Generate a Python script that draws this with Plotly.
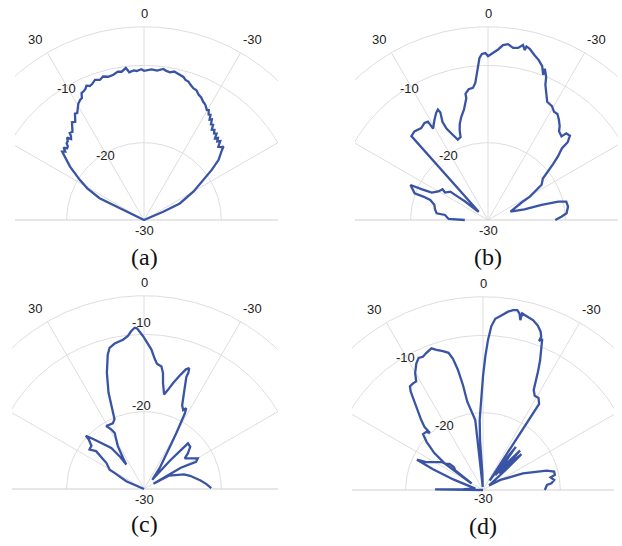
import numpy as np
import plotly.graph_objects as go

# ---------------- data: angle (deg, + = left of broadside) and level (dB) ----------------
theta_a = [90, 64.0, 63.8, 60.8, 58.0, 54.2, 50.1, 49.0, 48.0, 47.0,
           46.0, 45.2, 44.0, 43.0, 42.0, 41.0, 40.5, 39.0, 38.0, 37.2,
           36.4, 35.0, 34.0, 33.0, 32.0, 31.0, 29.4, 28.0, 27.0, 26.2,
           25.0, 24.0, 23.2, 22.0, 21.0, 19.3, 17.5, 15.9, 14.0, 11.9,
           10.0, 8.6, 6.8, 5.7, 4.0, 2.8, 1.0, 0.0, -1.5, -2.9,
           -5.0, -7.3, -8.5, -10.0, -11.5, -13.2, -15.4, -16.5, -17.8, -19.0,
           -20.5, -22.0, -23.5, -25.0, -26.6, -28.0, -29.7, -30.5, -31.5, -32.3,
           -33.2, -34.0, -35.0, -36.0, -36.9, -38.0, -39.0, -40.0, -41.0, -42.0,
           -43.0, -44.0, -45.4, -46.5, -47.3, -48.2, -49.5, -51.1, -53.5, -56.0,
           -60.1, -65.2, -66.7, -90]
r_a = [-30, -27.0, -23.6, -21.6, -20.2, -18.2, -16.2, -16.5, -16.0, -16.4,
       -16.3, -15.9, -15.8, -15.4, -15.9, -15.6, -15.2, -15.3, -14.9, -14.6,
       -14.3, -14.5, -14.0, -13.6, -13.7, -13.3, -12.7, -12.4, -12.3, -11.7,
       -11.6, -11.4, -11.1, -11.3, -11.2, -10.8, -11.0, -10.7, -10.9, -10.8,
       -10.5, -10.6, -10.2, -10.8, -10.6, -10.7, -10.5, -10.7, -10.6, -10.5,
       -10.6, -10.3, -10.5, -10.6, -10.4, -10.6, -10.8, -11.1, -11.2, -11.5,
       -11.8, -11.9, -12.3, -12.5, -12.9, -13.1, -13.6, -13.5, -14.0, -13.9,
       -14.5, -14.3, -14.9, -14.8, -15.4, -15.2, -15.6, -15.4, -16.0, -15.7,
       -16.1, -15.8, -16.5, -16.3, -16.0, -16.5, -17.0, -17.6, -19.1, -20.7,
       -22.6, -24.9, -27.3, -30]

theta_b = [90, 88.5, 83.3, 82.6, 78.6, 74.3, 70.9, 70.1, 70.0, 67.2,
           65.7, 65.1, 64.0, 60.1, 55.9, 57.4, 53.0, 52.6, 51.0, 49.7,
           48.5, 42.4, 39.7, 36.0, 33.2, 31.4, 31.4, 31.0, 28.1, 25.8,
           24.4, 23.9, 24.9, 24.4, 22.4, 20.6, 18.3, 17.5, 16.3, 14.5,
           12.3, 10.8, 10.1, 10.1, 8.4, 6.5, 5.3, 4.5, 3.7, 3.0,
           2.1, 0.9, 0.0, -1.7, -3.4, -4.9, -6.5, -8.3, -9.9, -11.3,
           -12.2, -12.5, -13.7, -15.6, -17.6, -19.4, -20.8, -20.6, -22.1, -23.0,
           -25.0, -26.6, -29.3, -31.4, -33.2, -35.2, -37.3, -38.7, -41.3, -42.1,
           -44.2, -45.7, -45.9, -47.6, -49.3, -51.1, -52.9, -56.7, -58.7, -60.8,
           -62.5, -69.8, -73.8, -74.3, -75.3, -76.8, -80.5, -85.1, -87.4, -89.4,
           -90]
r_b = [-27.0, -24.9, -24.4, -23.3, -23.0, -22.8, -22.1, -21.1, -19.9, -19.4,
       -19.0, -20.6, -21.9, -22.6, -22.9, -23.4, -23.9, -24.7, -26.2, -28.1,
       -28.4, -15.3, -15.1, -15.3, -15.0, -15.1, -15.7, -16.2, -15.3, -14.6,
       -14.3, -14.8, -16.0, -17.0, -18.1, -18.9, -18.7, -17.8, -17.0, -16.2,
       -15.4, -14.6, -14.0, -13.4, -12.9, -12.8, -12.2, -11.2, -10.1, -9.0,
       -8.5, -8.4, -8.8, -8.4, -7.9, -7.3, -7.1, -7.5, -7.4, -6.9,
       -7.5, -7.0, -7.2, -7.8, -8.3, -8.9, -9.9, -9.1, -10.0, -11.0,
       -12.1, -12.9, -13.1, -13.6, -13.6, -14.1, -14.7, -15.3, -15.6, -14.9,
       -14.8, -15.6, -16.7, -17.7, -18.9, -20.0, -21.1, -21.7, -22.7, -23.8,
       -25.1, -26.9, -25.1, -22.8, -20.6, -19.6, -19.5, -19.8, -20.5, -21.2,
       -21.3]

theta_c = [90, 66.5, 61.4, 60.6, 55.4, 51.7, 54.1, 50.6, 48.1, 47.6,
           45.6, 42.1, 38.5, 36.7, 36.0, 34.1, 31.4, 27.6, 28.8, 31.0,
           25.4, 22.9, 21.6, 20.2, 17.7, 15.1, 13.7, 11.4, 8.0, 6.0,
           4.6, 3.3, 2.5, 1.6, 0.4, -0.9, -3.0, -4.7, -5.9, -8.1,
           -9.3, -10.2, -12.0, -13.6, -15.5, -17.5, -19.3, -20.5, -20.9, -20.7,
           -21.8, -22.8, -24.5, -26.4, -27.6, -28.4, -29.1, -30.0, -31.1, -33.0,
           -36.7, -41.8, -42.5, -43.9, -47.6, -51.0, -53.0, -60.4, -62.4, -60.0,
           -60.5, -61.0, -62.0, -70.0, -74.0, -78.0, -81.5, -85.5, -89.3]
r_c = [-30, -27.5, -25.7, -24.9, -24.1, -22.1, -21.3, -21.2, -20.4, -19.8,
       -20.7, -22.1, -23.2, -24.7, -26.1, -25.2, -23.5, -21.8, -21.2, -20.5,
       -20.6, -20.2, -18.5, -16.7, -14.2, -12.0, -11.2, -10.8, -10.5, -10.1,
       -9.5, -9.1, -9.2, -9.6, -10.2, -10.9, -11.9, -13.1, -13.7, -14.0,
       -14.8, -16.1, -17.5, -16.8, -15.7, -14.6, -13.6, -13.3, -13.9, -14.5,
       -15.7, -17.0, -18.1, -18.6, -18.2, -18.9, -20.1, -21.6, -23.1, -24.7,
       -26.6, -28.4, -25.0, -21.8, -21.9, -22.7, -23.4, -22.0, -22.4, -24.5,
       -26.5, -28.6, -26.3, -24.5, -23.8, -23.2, -22.6, -21.9, -21.3]

theta_d = [90, 89.3, 87.5, 80.0, 70.5, 67.5, 65.3, 64.0, 55.7, 55.0,
           52.0, 51.9, 54.6, 60.3, 56.3, 55.2, 52.8, 49.5, 47.0, 44.2,
           42.9, 42.9, 41.4, 39.4, 37.4, 36.3, 35.2, 33.3, 31.6, 30.1,
           27.8, 26.0, 24.3, 22.4, 20.0, 18.4, 16.1, 14.1, 12.9, 11.8,
           10.8, 10.1, 6.3, 6.5, 6.3, 6.0, 5.0, 2.3, 3.4, 2.7,
           1.0, 0.0, -1.0, -1.9, -2.9, -4.1, -6.0, -8.0, -9.5, -10.8,
           -11.7, -12.4, -12.5, -14.3, -16.5, -18.5, -20.0, -20.8, -20.6, -21.4,
           -22.6, -23.8, -24.9, -25.9, -26.9, -28.8, -31.1, -33.1, -33.0, -33.5,
           -35.0, -36.5, -37.3, -38.5, -39.5, -41.5, -43.2, -44.5, -45.5, -46.2,
           -47.0, -48.5, -53.0, -60.0, -67.5, -73.1, -75.5, -78.2, -79.4, -82.0,
           -84.4, -85.5, -88.0, -90.0]
r_d = [-30, -23.8, -27.5, -29.0, -26.0, -23.0, -20.6, -21.8, -23.6, -24.1,
       -24.5, -25.2, -25.6, -28.3, -26.1, -24.0, -22.1, -20.4, -19.4, -19.5,
       -19.9, -18.9, -17.9, -16.6, -15.1, -14.2, -13.6, -13.5, -13.5, -12.5,
       -11.5, -11.0, -11.1, -10.8, -10.5, -10.9, -11.3, -11.7, -12.6, -14.1,
       -16.2, -18.4, -20.9, -23.5, -26.1, -28.7, -29.6, -27.8, -23.5, -20.9,
       -17.9, -15.3, -12.7, -10.6, -8.8, -7.8, -7.3, -6.7, -6.4, -6.3,
       -6.7, -7.5, -6.6, -6.8, -7.1, -7.6, -8.2, -8.8, -9.4, -9.0,
       -10.4, -11.7, -13.1, -14.4, -15.5, -16.1, -16.1, -16.7, -20.8, -25.0,
       -28.5, -25.0, -23.0, -25.5, -27.5, -25.5, -23.0, -25.5, -27.0, -24.5,
       -23.2, -26.0, -29.0, -27.4, -24.4, -21.4, -20.5, -20.5, -21.1, -20.7,
       -21.1, -21.7, -21.9, -22.0]

# ---------------- axes / ticks ----------------
R_MIN, R_MAX = -30, -5
ring_values = [-20, -10, -5]
spoke_angles = [-60, -30, 0, 30, 60]
angular_ticks = [30, 0, -30]
radial_ticks = [-10, -20]
panel_labels = ["(a)", "(b)", "(c)", "(d)"]

# ---------------- styling / geometry (pixels) ----------------
W, H = 622, 546
PX = 7.73                      # pixels per dB
LINE_COLOR = "#3a54a5"
GRID_COLOR = "#dedede"
BASE_COLOR = "#cfcfcf"
TICK_FONT = dict(family="Liberation Sans, Arial, sans-serif", size=13, color="#222222")
LABEL_FONT = dict(family="Liberation Serif, Times New Roman, serif", size=24, color="#111111")

panels = [
    dict(theta=theta_a, r=r_a, cx=144, cy=220, x0=15, x1=278, rang=30,
         rshift={-10: (0, -2), -20: (0, -2)}, cshift=-10, lshift=-37),
    dict(theta=theta_b, r=r_b, cx=488, cy=220, x0=355, x1=618, rang=30,
         rshift={-10: (-1, -2), -20: (-1, -2)}, cshift=-10, lshift=-37),
    dict(theta=theta_c, r=r_c, cx=144, cy=489, x0=12, x1=278, rang=0,
         rshift={-10: (-2.5, 12), -20: (-2.5, 6)}, cshift=-10, lshift=-35),
    dict(theta=theta_d, r=r_d, cx=483, cy=490, x0=352, x1=614, rang=30,
         rshift={-10: (0, -1), -20: (0, -2)}, cshift=-8, lshift=-36),
]


def project(theta_deg, r_db):
    """Polar (angle from broadside, level in dB) -> plane of the half-disc."""
    rho = np.asarray(r_db, dtype=float) - R_MIN
    t = np.radians(np.asarray(theta_deg, dtype=float))
    return -rho * np.sin(t), rho * np.cos(t)


fig = go.Figure()
annotations = []
layout_axes = {}

for k, p in enumerate(panels, start=1):
    sfx = "" if k == 1 else str(k)
    xa, ya = "x" + sfx, "y" + sfx

    # grid rings
    gx, gy = [], []
    arc = np.linspace(-90, 90, 361)
    for v in ring_values:
        x, y = project(arc, np.full_like(arc, v))
        gx += list(x) + [None]
        gy += list(y) + [None]
    # spokes
    for a in spoke_angles:
        x, y = project([a, a], [R_MIN, R_MAX])
        gx += list(x) + [None]
        gy += list(y) + [None]
    fig.add_trace(go.Scatter(x=gx, y=gy, mode="lines", xaxis=xa, yaxis=ya,
                             line=dict(color=GRID_COLOR, width=1),
                             hoverinfo="skip", showlegend=False))
    # baseline (+/-90 deg)
    bx, by = project([90, -90], [R_MAX + 10, R_MAX + 10])
    fig.add_trace(go.Scatter(x=list(bx), y=[0, 0], mode="lines", xaxis=xa, yaxis=ya,
                             line=dict(color=BASE_COLOR, width=1),
                             hoverinfo="skip", showlegend=False))
    # pattern
    dx, dy = project(p["theta"], p["r"])
    fig.add_trace(go.Scatter(x=dx, y=dy, mode="lines", xaxis=xa, yaxis=ya,
                             line=dict(color=LINE_COLOR, width=2.3),
                             hoverinfo="skip", showlegend=False))

    cx, cy = p["cx"], p["cy"]
    top, bot = cy - 216, cy + 2
    layout_axes["xaxis" + sfx] = dict(domain=[p["x0"] / W, p["x1"] / W],
                                      range=[(p["x0"] - cx) / PX, (p["x1"] - cx) / PX],
                                      visible=False, fixedrange=True)
    layout_axes["yaxis" + sfx] = dict(domain=[1 - bot / H, 1 - top / H],
                                      range=[(cy - bot) / PX, (cy - top) / PX],
                                      visible=False, fixedrange=True, anchor=xa)

    # angular tick labels
    for a in angular_ticks:
        ang = a * 31.1 / 30
        rad = R_MIN + (27.2 if a else 26.7)
        x, y = project([ang], [rad])
        annotations.append(dict(x=float(x[0]), y=float(y[0]), xref=xa, yref=ya,
                                text=str(a), showarrow=False, font=TICK_FONT,
                                xanchor="center", yanchor="middle"))
    # radial tick labels
    for v in radial_ticks:
        x, y = project([p["rang"]], [v])
        sx, sy = p["rshift"][v]
        annotations.append(dict(x=float(x[0]), y=float(y[0]), xref=xa, yref=ya,
                                text=str(v), showarrow=False, font=TICK_FONT,
                                xshift=sx, yshift=sy, xanchor="center", yanchor="middle"))
    annotations.append(dict(x=0, y=0, xref=xa, yref=ya, text=str(R_MIN), showarrow=False,
                            font=TICK_FONT, yshift=p["cshift"], xanchor="center",
                            yanchor="middle"))
    # panel label
    annotations.append(dict(x=0, y=0, xref=xa, yref=ya, text=panel_labels[k - 1],
                            showarrow=False, font=LABEL_FONT, yshift=p["lshift"],
                            xanchor="center", yanchor="middle"))

fig.update_layout(width=W, height=H, autosize=False,
                  margin=dict(l=0, r=0, t=0, b=0),
                  paper_bgcolor="white", plot_bgcolor="white",
                  annotations=annotations, **layout_axes)

fig.write_html("out.html")
